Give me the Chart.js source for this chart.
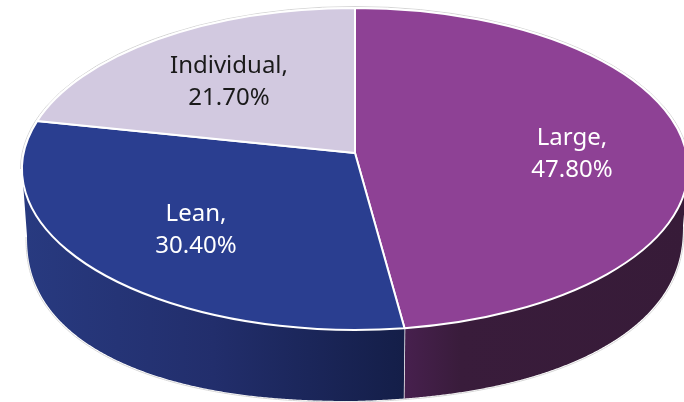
<!DOCTYPE html>
<html><head><meta charset="utf-8">
<style>html,body{margin:0;padding:0;background:#fff}canvas{display:block}</style>
<script src="https://cdn.jsdelivr.net/npm/chart.js@4"></script>
</head><body><canvas id="c" width="684" height="402" style="width:684px;height:402px"></canvas>
<script>
const categories = ["Large", "Lean", "Individual"];
const shares = [47.8, 30.4, 21.7];
const topColors = ["#8e4195", "#2a3e90", "#d2c9e0"];
const wallLeftColors = ["#47204e", "#283a80", "#000000"];
const wallMidColors = ["#391c3b", "#222e6c", "#000000"];
const wallRightColors = ["#371b38", "#141e48", "#000000"];
const labelColors = ["#ffffff", "#ffffff", "#1a1a1a"];

const G = {cx:355, cy:169, rx:333, ry:161, tilt:0.099, bcx:355, bcy:236, brx:328, bry:165, bk:2.3, rightLift:10.5};
function toPhi(chartAngle){
  const th = chartAngle + Math.PI/2, x = Math.sin(th), y = Math.cos(th), p = G.tilt;
  const d = 1 + p*y;
  return Math.atan2(-(y+p)/d, x*Math.sqrt(1-p*p)/d);
}
function unwrap(a,b){ while(b<=a) b += 2*Math.PI; return b; }
function basePoint(t){
  const c = Math.cos(t), u = Math.abs(c);
  return {x:G.bcx+G.brx*c, y:G.bcy+G.bry*Math.pow(Math.max(1-Math.pow(u,G.bk),0),1/G.bk)-G.rightLift*Math.max(c,0)};
}
const apex = () => ({x:G.cx, y:G.cy - G.ry*G.tilt});

Chart.ArcElement.prototype.draw = function(ctx){
  const i = this.$context ? this.$context.dataIndex : 0;
  const a = toPhi(this.startAngle);
  const b = unwrap(a, toPhi(this.endAngle));
  const segs = [[a,b],[a-2*Math.PI,b-2*Math.PI]];
  for(const [s,e] of segs){
    const w0 = Math.max(s,0), w1 = Math.min(e,Math.PI);
    if(w1 <= w0) continue;
    ctx.beginPath();
    const N = 300;
    for(let k=0;k<=N;k++){
      const t = w0+(w1-w0)*k/N;
      ctx.lineTo(G.cx+G.rx*Math.cos(t), G.cy+G.ry*Math.sin(t));
    }
    for(let k=N;k>=0;k--){
      const q = basePoint(w0+(w1-w0)*k/N);
      ctx.lineTo(q.x,q.y);
    }
    ctx.closePath();
    const x0 = G.cx+G.rx*Math.cos(w1), x1 = G.cx+G.rx*Math.cos(w0);
    const grad = ctx.createLinearGradient(x0,0,x1,0);
    grad.addColorStop(0,wallLeftColors[i]);
    grad.addColorStop(i===0?0.2:0.5,wallMidColors[i]);
    grad.addColorStop(1,wallRightColors[i]);
    ctx.fillStyle = grad;
    ctx.fill();
    if(e===w1 && w1<Math.PI){
      const q = basePoint(w1);
      ctx.beginPath();
      ctx.moveTo(G.cx+G.rx*Math.cos(w1), G.cy+G.ry*Math.sin(w1));
      ctx.lineTo(q.x,q.y);
      ctx.strokeStyle="#fff"; ctx.lineWidth=1.5; ctx.stroke();
    }
  }
  const ap = apex();
  ctx.beginPath();
  ctx.moveTo(ap.x, ap.y);
  ctx.ellipse(G.cx,G.cy,G.rx,G.ry,0,a,b,false);
  ctx.closePath();
  ctx.fillStyle = this.options.backgroundColor;
  ctx.fill();
  ctx.strokeStyle = "#fff"; ctx.lineWidth = 2; ctx.lineJoin="round";
  ctx.stroke();
};

const outline = {
  id:"outline",
  beforeDatasetsDraw(chart){
    const ctx = chart.ctx;
    ctx.save();
    ctx.strokeStyle="#d6d6d6"; ctx.lineWidth=1;
    ctx.beginPath();
    ctx.ellipse(G.cx,G.cy,G.rx+1.5,G.ry+1.5,0,Math.PI,2*Math.PI,false);
    ctx.stroke();
    ctx.beginPath();
    for(let k=0;k<=400;k++){
      const q = basePoint(Math.PI*k/400);
      ctx.lineTo(q.x+(k<200?1:-1), q.y+1);
    }
    ctx.stroke();
    ctx.restore();
  }
};
const labelOffsets = [[217,-16.5],[-159,60],[-126,-88.5]];
const sliceLabels = {
  id:"sliceLabels",
  afterDatasetsDraw(chart){
    const ctx = chart.ctx;
    ctx.save();
    ctx.font = "24px 'Noto Sans'";
    ctx.textAlign="center"; ctx.textBaseline="alphabetic";
    categories.forEach((c,i)=>{
      const x = G.cx+labelOffsets[i][0], y = G.cy+labelOffsets[i][1];
      ctx.fillStyle = labelColors[i];
      ctx.fillText(c+",", x, y-8);
      ctx.fillText(shares[i].toFixed(2)+"%", x, y+24);
    });
    ctx.restore();
  }
};
new Chart(document.getElementById("c"),{
  type:"pie",
  data:{labels:categories,datasets:[{data:shares,backgroundColor:topColors,borderWidth:0}]},
  options:{responsive:false,animation:false,events:[],
    plugins:{legend:{display:false},tooltip:{enabled:false}}},
  plugins:[outline,sliceLabels]
});
</script></body></html>
